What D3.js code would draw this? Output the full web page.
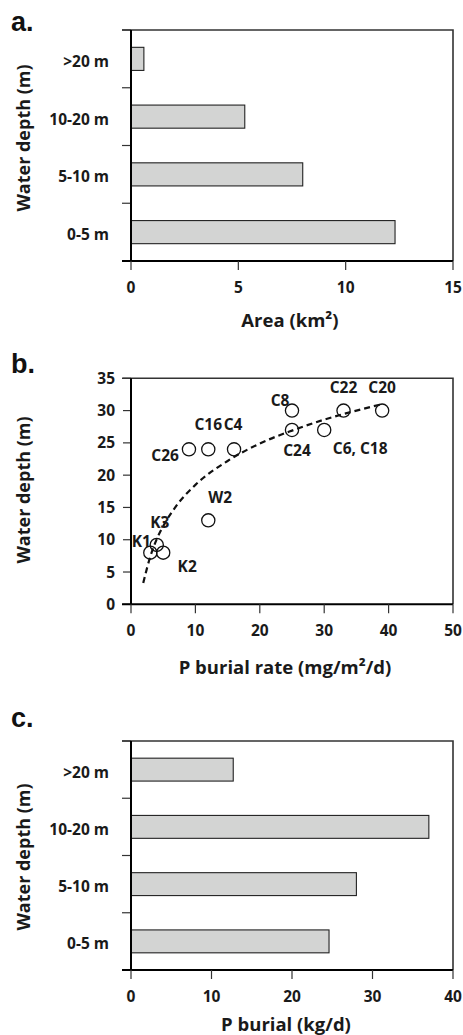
<!DOCTYPE html>
<html>
<head>
<meta charset="utf-8">
<script src="https://cdn.jsdelivr.net/npm/d3@7"></script>
<style>
  body { margin: 0; background: #fff; }
  text { font-family: "Open Sans", sans-serif; font-weight: bold; fill: #1a1a1a; }
  .letter { font-family: "Liberation Sans", Arial, sans-serif; font-size: 27px; fill: #111; }
</style>
</head>
<body>
<div id="chart"></div>
<script>
// bar panels
const depthClasses = ["0-5 m", "5-10 m", "10-20 m", ">20 m"];
const areaKm2 = [12.3, 8.0, 5.3, 0.6];
const burialKgPerDay = [24.6, 28.0, 37.0, 12.7];

// scatter panel (sampling sites)
const siteNames = ["C8", "C22", "C20", "C24", "C6, C18", "C26", "C16", "C4", "W2", "K3", "K1", "K2"];
const siteBurialRate = [25, 33, 39, 25, 30, 9, 12, 16, 12, 4, 3, 5];
const siteDepth = [30, 30, 30, 27, 27, 24, 24, 24, 13, 9.2, 8, 8];

// dashed trend line
const trendBurialRate = [1.9, 3, 4, 5, 7, 10, 15, 20, 25, 30, 35, 39];
const trendDepth = [3.3, 7.4, 10.1, 12.1, 15.2, 18.5, 22.2, 24.9, 26.9, 28.6, 30.0, 31.0];

// tick values
const areaTicks = [0, 5, 10, 15];
const rateTicks = [0, 10, 20, 30, 40, 50];
const depthTicks = [0, 5, 10, 15, 20, 25, 30, 35];
const burialTicks = [0, 10, 20, 30, 40];

// label placement for the sites (pixels from the circle)
const labelDx = [-12, 0, 0, 5, 36, -10, 0, -1, 12, 3, -9, 24];
const labelDy = [-5, -18, -18, 26, 24, 12, -19, -19, -17, -17, -6, 19];
const labelAnchor = ["middle", "middle", "middle", "middle", "middle", "end", "middle", "middle", "middle", "middle", "middle", "middle"];

const W = 463, H = 1035;
const svg = d3.select("#chart").append("svg")
    .attr("width", W)
    .attr("height", H);

const left = 131, right = 453;

function frame(g, top, bottom) {
    // thin top / right frame
    g.append("path")
        .attr("d", `M${left - 9},${top} H${right} V${bottom}`)
        .attr("fill", "none")
        .attr("stroke", "#333")
        .attr("stroke-width", 1.6);
    // heavier left + bottom axes
    g.append("line")
        .attr("x1", left).attr("x2", left)
        .attr("y1", top).attr("y2", bottom)
        .attr("stroke", "#000").attr("stroke-width", 2);
    g.append("line")
        .attr("x1", left - 9).attr("x2", right)
        .attr("y1", bottom).attr("y2", bottom)
        .attr("stroke", "#000").attr("stroke-width", 2);
}

function xAxis(g, x, ticks, bottom) {
    g.selectAll(".xt").data(ticks).enter().append("line")
        .attr("x1", d => x(d)).attr("x2", d => x(d))
        .attr("y1", bottom).attr("y2", bottom + 9)
        .attr("stroke", "#333").attr("stroke-width", 1.2);
    g.selectAll(".xl").data(ticks).enter().append("text")
        .attr("x", d => x(d))
        .attr("y", bottom + 32)
        .attr("text-anchor", "middle")
        .attr("font-size", 15.5)
        .text(d => d);
}

function yTitle(g, cy) {
    g.append("text")
        .attr("transform", `translate(30,${cy}) rotate(-90)`)
        .attr("text-anchor", "middle")
        .attr("font-size", 18)
        .text("Water depth (m)");
}

function barPanel(top, bottom, values, xMax, ticks, title, titleX, titleY, yTitleCy, letterY, letter) {
    const g = svg.append("g");
    const x = d3.scaleLinear().domain([0, xMax]).range([left, right]);
    const y = d3.scaleBand().domain(depthClasses.slice().reverse()).range([top, bottom]).padding(0);
    const bw = y.bandwidth();

    g.append("text").attr("class", "letter").attr("x", 11).attr("y", letterY).text(letter);

    g.selectAll(".bar").data(depthClasses).enter().append("rect")
        .attr("x", left)
        .attr("y", d => y(d) + bw * 0.3)
        .attr("width", (d, i) => x(values[i]) - left)
        .attr("height", bw * 0.4)
        .attr("fill", "#d3d4d3")
        .attr("stroke", "#222")
        .attr("stroke-width", 1.1);

    // category boundary ticks
    const bounds = depthClasses.map(d => y(d)).concat([bottom]);
    g.selectAll(".yt").data(bounds).enter().append("line")
        .attr("x1", left - 9).attr("x2", left)
        .attr("y1", d => d).attr("y2", d => d)
        .attr("stroke", "#333").attr("stroke-width", 1.2);

    g.selectAll(".yl").data(depthClasses).enter().append("text")
        .attr("x", 109)
        .attr("y", d => y(d) + bw / 2 + 8)
        .attr("text-anchor", "end")
        .attr("font-size", 15.5)
        .text(d => d);

    frame(g, top, bottom);
    xAxis(g, x, ticks, bottom);
    yTitle(g, yTitleCy);

    g.append("text")
        .attr("x", titleX).attr("y", titleY)
        .attr("text-anchor", "middle")
        .attr("font-size", 18.5)
        .text(title);
}

// panel a
barPanel(30, 261, areaKm2, 15, areaTicks, "Area (km²)", 290, 327, 138, 31, "a.");

// panel b
(function () {
    const top = 378.3, bottom = 604.3;
    const g = svg.append("g");
    const x = d3.scaleLinear().domain([0, 50]).range([left, right]);
    const y = d3.scaleLinear().domain([0, 35]).range([bottom, top]);

    g.append("text").attr("class", "letter").attr("x", 11).attr("y", 373).text("b.");

    g.selectAll(".yt").data(depthTicks).enter().append("line")
        .attr("x1", left - 8).attr("x2", left)
        .attr("y1", d => y(d)).attr("y2", d => y(d))
        .attr("stroke", "#333").attr("stroke-width", 1.2);
    g.selectAll(".yl").data(depthTicks).enter().append("text")
        .attr("x", 115)
        .attr("y", d => y(d) + 5.5)
        .attr("text-anchor", "end")
        .attr("font-size", 15.5)
        .text(d => d);

    frame(g, top, bottom);
    xAxis(g, x, rateTicks, bottom);
    yTitle(g, 490);

    g.append("text")
        .attr("x", 285).attr("y", 674)
        .attr("text-anchor", "middle")
        .attr("font-size", 18.5)
        .text("P burial rate (mg/m²/d)");

    g.selectAll(".site").data(siteNames).enter().append("circle")
        .attr("cx", (d, i) => x(siteBurialRate[i]))
        .attr("cy", (d, i) => y(siteDepth[i]))
        .attr("r", 6.6)
        .attr("fill", "none")
        .attr("stroke", "#111")
        .attr("stroke-width", 1.3);

    const trend = trendBurialRate.map((v, i) => [v, trendDepth[i]]);
    g.append("path")
        .datum(trend)
        .attr("d", d3.line().x(d => x(d[0])).y(d => y(d[1])).curve(d3.curveMonotoneX))
        .attr("fill", "none")
        .attr("stroke", "#111")
        .attr("stroke-width", 2.2)
        .attr("stroke-dasharray", "6,4");

    g.selectAll(".lab").data(siteNames).enter().append("text")
        .attr("x", (d, i) => x(siteBurialRate[i]) + labelDx[i])
        .attr("y", (d, i) => y(siteDepth[i]) + labelDy[i])
        .attr("text-anchor", (d, i) => labelAnchor[i])
        .attr("font-size", 15.5)
        .text(d => d);
})();

// panel c
barPanel(741, 970, burialKgPerDay, 40, burialTicks, "P burial (kg/d)", 286, 1031, 857, 727, "c.");
</script>
</body>
</html>
